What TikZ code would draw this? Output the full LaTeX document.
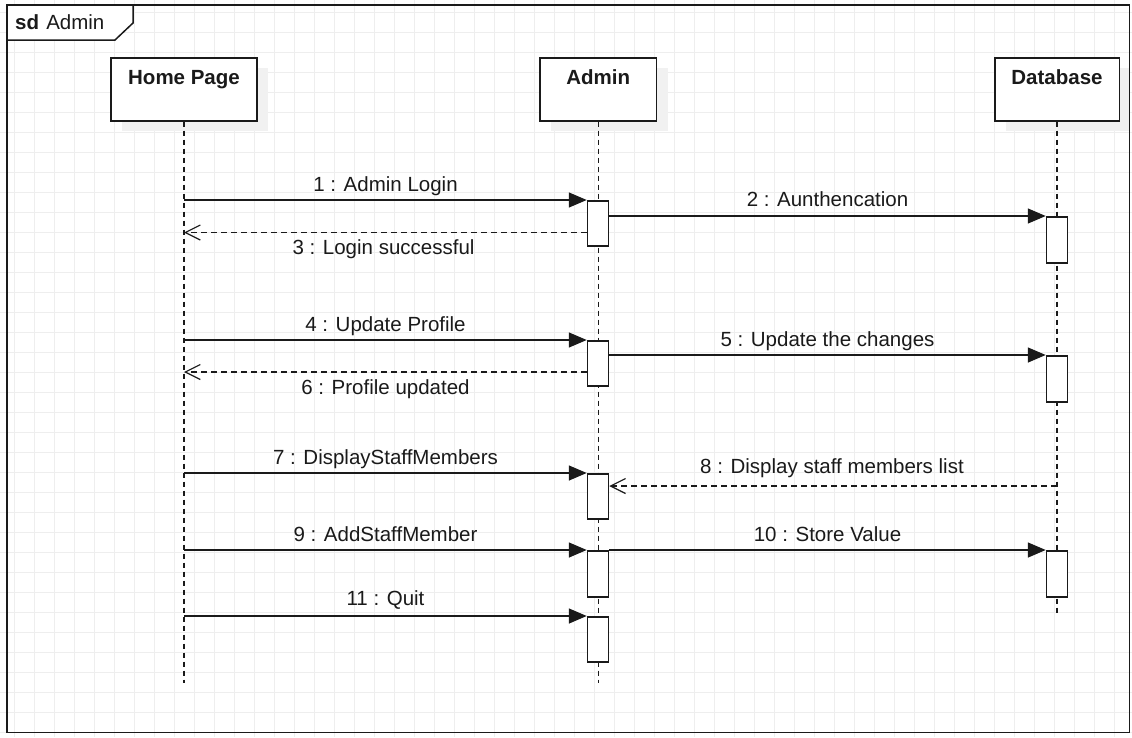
\documentclass[tikz,border=0pt]{standalone}
\usepackage{fontspec}
\setmainfont{Liberation Sans}
\usetikzlibrary{arrows.meta}
\definecolor{ink}{HTML}{1A1A1A}
\definecolor{gridc}{HTML}{EEEEEE}
\definecolor{shadowc}{HTML}{F1F1F1}
\begin{document}
\begin{tikzpicture}[x=1pt,y=-1pt,
  gridline/.style={draw=gridc,line width=0.7pt},
  headbox/.style={draw=ink,fill=white,line width=1.5pt,minimum width=#1,inner xsep=0pt,inner ysep=0pt,
    text height=26.3pt,text depth=36.7pt,anchor=north,font=\fontsize{20.5}{24}\selectfont\bfseries,text=ink},
  lifeline/.style={draw=ink,line width=1.3pt,dash pattern=on 5pt off 4pt},
  actbox/.style={draw=ink,fill=white,line width=1.5pt,minimum width=21pt,minimum height=#1,inner sep=0pt,anchor=north},
  msg/.style={draw=ink,line width=1.5pt,-{Triangle[length=18pt,width=15pt]}},
  ret/.style={draw=ink,line width=1.2pt,dash pattern=on 6pt off 4pt,-{Straight Barb[length=15pt,width=15pt,line width=1.2pt]}},
  lbl/.style={anchor=base,inner sep=0pt,font=\fontsize{20.5}{24}\selectfont,text=ink}
]
\useasboundingbox (0,0) rectangle (1132,737);
\fill[white] (0,0) rectangle (1132,737);
% grid
\foreach \x in {14,34,...,1134} \draw[gridline] (\x,0) -- (\x,737);
\foreach \y in {12.7,32.7,...,740} \draw[gridline] (0,\y) -- (1132,\y);
% frame
\draw[draw=ink,line width=1.5pt] (7,5) rectangle (1129.5,732.5);
\draw[draw=ink,fill=white,line width=1.5pt] (7,5) -- (133,5) -- (133,23) -- (115,40) -- (7,40) -- cycle;
\node[anchor=base west,inner sep=0pt,font=\fontsize{20.5}{24}\selectfont,text=ink] (sd) at (15,29) {\textbf{sd}\hspace{0.35em}Admin};
% shadows
\fill[shadowc] (122,68) rectangle (268,131);
\fill[shadowc] (551,68) rectangle (667.5,131);
\fill[shadowc] (1006,68) rectangle (1128.7,131);
% lifeline heads
\node[headbox=146pt] (hp) at (184,57) {Home Page};
\node[headbox=116.5pt] (ad) at (598.3,57) {Admin};
\node[headbox=124.5pt] (db) at (1057,57) {Database};
% lifelines
\coordinate (hpend) at (184,683);
\coordinate (adend) at (598.3,683);
\coordinate (dbend) at (1057,613);
\draw[lifeline] (hp.south) -- (hpend);
\draw[lifeline] (ad.south) -- (adend);
\draw[lifeline] (db.south) -- (dbend);
% activations
\node[actbox=45pt] (a1) at (598,200) {};
\node[actbox=45pt] (a2) at (598,340) {};
\node[actbox=45pt] (a3) at (598,473) {};
\node[actbox=46pt] (a4) at (598,550) {};
\node[actbox=45pt] (a5) at (598,616) {};
\node[actbox=46pt] (d1) at (1057,216) {};
\node[actbox=46pt] (d2) at (1057,355) {};
\node[actbox=46pt] (d3) at (1057,550) {};
% messages
\draw[msg] (hp |- a1.north west) -- (a1.north west);
\node[lbl] (l1) at (385.5,191) {1 : Admin Login};
\draw[msg] (a1.east |- d1.north west) -- (d1.north west);
\node[lbl] (l2) at (827.5,206) {2 : Aunthencation};
\draw[ret] (a1.west |- 0,232.5) -- (hp |- 0,232.5);
\node[lbl] (l3) at (383.5,254) {3 : Login successful};

\draw[msg] (hp |- a2.north west) -- (a2.north west);
\node[lbl] (l4) at (385.5,331) {4 : Update Profile};
\draw[msg] (a2.east |- d2.north west) -- (d2.north west);
\node[lbl] (l5) at (827.5,346) {5 : Update the changes};
\draw[ret] (a2.west |- 0,372) -- (hp |- 0,372);
\node[lbl] (l6) at (385.5,394) {6 : Profile updated};

\draw[msg] (hp |- a3.north west) -- (a3.north west);
\node[lbl] (l7) at (385.5,464) {7 : DisplayStaffMembers};
\draw[ret] (db |- 0,486) -- (a3.east |- 0,486);
\node[lbl] (l8) at (832,473.3) {8 : Display staff members list};

\draw[msg] (hp |- a4.north west) -- (a4.north west);
\node[lbl] (l9) at (385.5,541) {9 : AddStaffMember};
\draw[msg] (a4.north east) -- (d3.north west);
\node[lbl] (l10) at (827.5,541) {10 : Store Value};

\draw[msg] (hp |- a5.north west) -- (a5.north west);
\node[lbl] (l11) at (385.5,605) {11 : Quit};
\end{tikzpicture}
\end{document}
